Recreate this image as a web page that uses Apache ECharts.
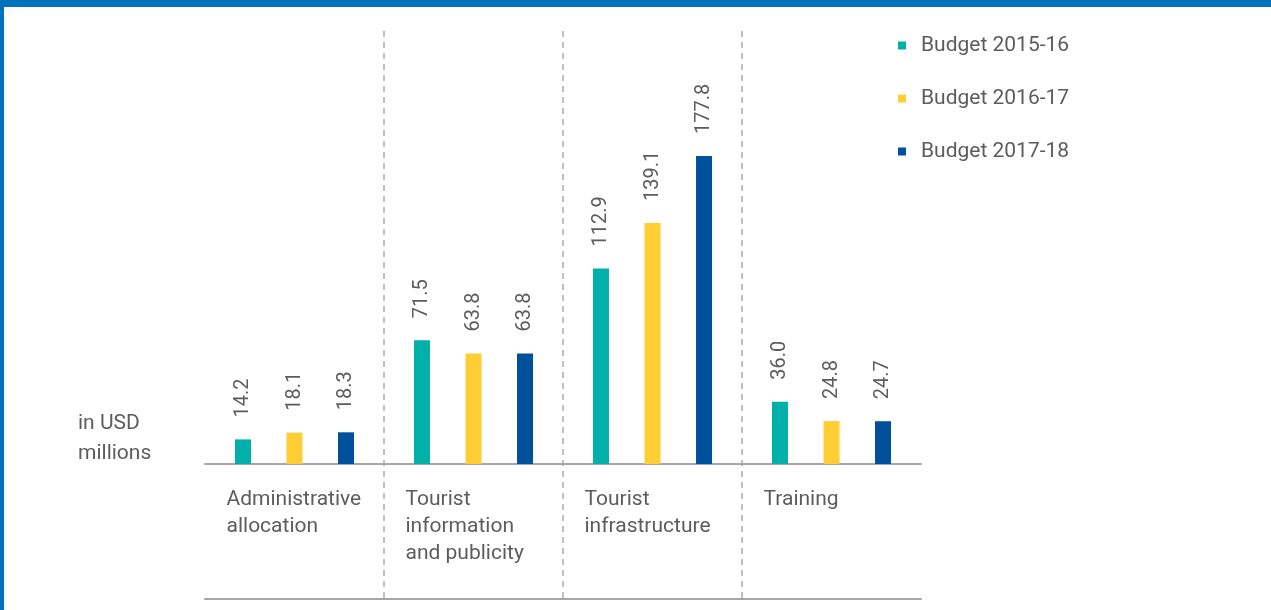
<!DOCTYPE html>
<html>
<head>
<meta charset="utf-8">
<script src="https://cdn.jsdelivr.net/npm/echarts@6/dist/echarts.min.js"></script>
<style>
  html, body { margin: 0; padding: 0; background: #fff; }
  #chart { position: absolute; left: 0; top: 0; width: 1271px; height: 610px; }
  .edge-top { position: absolute; left: 0; top: 0; width: 1271px; height: 7px; background: #0071bb; }
  .edge-left { position: absolute; left: 0; top: 0; width: 4px; height: 610px; background: #0071bb; }
</style>
</head>
<body>
<div id="chart"></div>
<div class="edge-top"></div>
<div class="edge-left"></div>
<script>
// values (USD millions)
const categories = ['Administrative\nallocation', 'Tourist\ninformation\nand publicity', 'Tourist\ninfrastructure', 'Training'];
const seriesNames = ['Budget 2015-16', 'Budget 2016-17', 'Budget 2017-18'];
const budget1516 = [14.2, 71.5, 112.9, 36.0];
const budget1617 = [18.1, 63.8, 139.1, 24.8];
const budget1718 = [18.3, 63.8, 177.8, 24.7];
const colors = ['#00b0a9', '#ffcd34', '#00509b'];

const textColor = '#5c5c5c';
const font = 'Roboto, sans-serif';

const myChart = echarts.init(document.getElementById('chart'));

const makeSeries = (name, data, color) => ({
  name: name,
  type: 'bar',
  xAxisIndex: 0,
  yAxisIndex: 0,
  data: data,
  barWidth: 16,
  barGap: '222%',
  itemStyle: { color: color },
  label: {
    show: true,
    position: 'top',
    rotate: 90,
    align: 'left',
    verticalAlign: 'middle',
    distance: 22,
    color: textColor,
    fontFamily: font,
    fontSize: 20,
    formatter: p => p.value.toFixed(1)
  }
});

const option = {
  animation: false,
  title: {
    text: 'in USD\nmillions',
    left: 78,
    top: 409,
    padding: 0,
    textStyle: { color: textColor, fontFamily: font, fontSize: 21, fontWeight: 'normal', lineHeight: 30 }
  },
  legend: {
    data: seriesNames,
    orient: 'vertical',
    left: 893,
    top: 30,
    icon: 'rect',
    itemWidth: 8,
    itemHeight: 8,
    itemGap: 32,
    textStyle: { color: textColor, fontFamily: font, fontSize: 21, padding: [0, 0, 0, 10] }
  },
  grid: [
    { left: 205, right: 350, top: 31, bottom: 146 },
    { left: 205, right: 350, top: 31, bottom: 11 }
  ],
  xAxis: [
    {
      type: 'category',
      gridIndex: 0,
      data: categories,
      axisLine: { lineStyle: { color: '#a6a6a6', width: 2 } },
      axisTick: { show: false },
      axisLabel: {
        interval: 0,
        margin: 22,
        align: 'center',
        formatter: v => v.split('\n').map(s => '{a|' + s + '}').join('\n'),
        rich: {
          a: { width: 136, align: 'left', color: textColor, fontFamily: font, fontSize: 21, lineHeight: 27 }
        }
      },
      splitLine: { show: false }
    },
    {
      type: 'category',
      gridIndex: 1,
      data: categories,
      axisLine: { lineStyle: { color: '#a6a6a6', width: 2 } },
      axisTick: { show: false },
      axisLabel: { show: false },
      splitLine: {
        show: true,
        interval: 0,
        showMinLine: false,
        showMaxLine: false,
        lineStyle: { color: '#aaa', width: 1.5, type: [6, 5] }
      }
    }
  ],
  yAxis: [
    { type: 'value', gridIndex: 0, min: 0, max: 250, show: false },
    { type: 'value', gridIndex: 1, min: 0, max: 1, show: false }
  ],
  series: [
    makeSeries(seriesNames[0], budget1516, colors[0]),
    makeSeries(seriesNames[1], budget1617, colors[1]),
    makeSeries(seriesNames[2], budget1718, colors[2])
  ]
};

myChart.setOption(option);
</script>
</body>
</html>
